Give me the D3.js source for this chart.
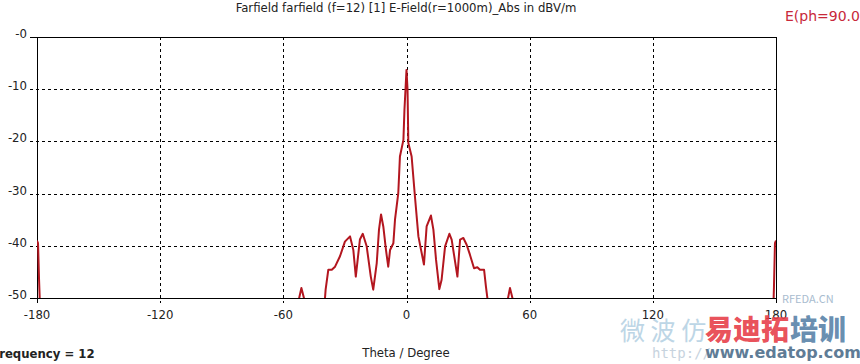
<!DOCTYPE html>
<html lang="en">
<head>
    <meta charset="UTF-8">
    <title>Farfield</title>
    <script src="https://cdnjs.cloudflare.com/ajax/libs/d3/7.8.5/d3.min.js"></script>
</head>

<style>
body { margin: 0; background: #fff; }
svg { display: block; font-family: "DejaVu Sans Condensed", "DejaVu Sans", sans-serif; }
.grid { stroke: #000; stroke-width: 1; stroke-dasharray: 3,3; shape-rendering: crispEdges; }
.frame { fill: none; stroke: #000; stroke-width: 1.2; shape-rendering: crispEdges; }
.line { fill: none; stroke: #b3161f; stroke-width: 2px; stroke-linejoin: round; }
</style>

<body>
<div id="output"></div>
<script>

    // theta in degrees, E-field in dBV/m (values below -50 are outside the view)
    var theta = [-180, -179.5, -179, -178.5, -177, -160, -140, -120, -100, -80, -65, -56,
        -54, -51.2, -48, -45, -42, -39.7, -39.4, -38.1, -36.4, -34.8, -32.4, -30, -27.5,
        -25.9, -24.7, -22.7, -21.3, -19.4, -17.4, -16.2, -14.5, -13.4, -12.4, -11.3, -10,
        -8.9, -8, -6.4, -5.6, -4, -3.2, -1.5, -1, 0, 0.5, 0.9, 2.5, 4.1, 5.8, 7.1, 8.5,
        9.8, 11.9, 13.1, 14.4, 16, 17.1, 18.8, 20.9, 22, 24.8, 26.1, 27.7, 29.3, 30.9,
        32.9, 34.5, 35.8, 37.8, 38.7, 39.4, 40, 45, 48, 50.4, 53.5, 56, 70, 90, 110, 130,
        150, 170, 178, 178.7, 179, 179.5, 180];
    var eField = [-39, -39.5, -46.5, -52, -60, -64, -60, -63, -62, -66, -58, -56,
        -53, -48.1, -53, -57, -55, -50, -48.4, -44.6, -44.6, -44, -42, -39.2, -38.2,
        -40.8, -45.9, -38.8, -37.7, -40.1, -45.9, -48.4, -43.3, -36.9, -34, -36.3, -40.8,
        -44, -40.8, -39.5, -35, -29.9, -22.9, -19.7, -14, -6.3, -10, -20.3, -22.9, -30.5, -38.2, -40.8, -43.6,
        -36.3, -34.2, -36.9, -42.7, -48.3, -46.5, -40.1, -37.7, -38.8, -45.9, -38.8, -38.5, -39.8, -41.7,
        -44.3, -44.1, -44.6, -44.6, -47.8, -50, -53, -56, -53, -48.1, -53, -57, -62, -66, -61, -64,
        -60, -63, -58, -52, -48, -39.5, -39];

    var xTicks = [-180, -120, -60, 0, 60, 120, 180];
    var yTicks = [0, -10, -20, -30, -40, -50];
    var yTickLabels = ["-0", "-10", "-20", "-30", "-40", "-50"];

    var width = 860, height = 364;
    var plot = {left: 37, right: 776, top: 37, bottom: 298};

    var x = d3.scaleLinear().domain([-180, 180]).range([plot.left, plot.right]);
    var y = d3.scaleLinear().domain([-50, 0]).range([plot.bottom, plot.top]);

    var svg = d3.select("#output").append("svg")
        .attr("width", width)
        .attr("height", height);

    svg.append("defs").append("clipPath")
        .attr("id", "plotclip")
        .append("rect")
        .attr("x", plot.left)
        .attr("y", plot.top)
        .attr("width", plot.right - plot.left)
        .attr("height", plot.bottom - plot.top);

    // dashed grid, with the little tick stubs outside the frame
    svg.selectAll(".hgrid")
        .data(yTicks.slice(1, -1))
        .enter().append("line")
        .attr("class", "grid")
        .attr("x1", plot.left - 7)
        .attr("x2", plot.right)
        .attr("y1", function(d) { return Math.round(y(d)) + 0.5; })
        .attr("y2", function(d) { return Math.round(y(d)) + 0.5; });

    svg.selectAll(".vgrid")
        .data(xTicks.slice(1, -1))
        .enter().append("line")
        .attr("class", "grid")
        .attr("x1", function(d) { return Math.round(x(d)) + 0.5; })
        .attr("x2", function(d) { return Math.round(x(d)) + 0.5; })
        .attr("y1", plot.top)
        .attr("y2", plot.bottom + 5);

    // tick stubs on the frame corners
    svg.selectAll(".ystub")
        .data([0, -50])
        .enter().append("line")
        .attr("stroke", "#000")
        .attr("x1", plot.left - 7)
        .attr("x2", plot.left)
        .attr("y1", function(d) { return Math.round(y(d)) + 0.5; })
        .attr("y2", function(d) { return Math.round(y(d)) + 0.5; });

    svg.selectAll(".xstub")
        .data([-180, 180])
        .enter().append("line")
        .attr("stroke", "#000")
        .attr("x1", function(d) { return Math.round(x(d)) + 0.5; })
        .attr("x2", function(d) { return Math.round(x(d)) + 0.5; })
        .attr("y1", plot.bottom)
        .attr("y2", plot.bottom + 5);

    svg.append("rect")
        .attr("class", "frame")
        .attr("x", plot.left + 0.5)
        .attr("y", plot.top + 0.5)
        .attr("width", plot.right - plot.left)
        .attr("height", plot.bottom - plot.top);

    // the curve
    var pts = theta.map(function(t, i) { return [t, eField[i]]; });
    var line = d3.line()
        .x(function(d) { return x(d[0]); })
        .y(function(d) { return y(d[1]); });

    svg.append("path")
        .datum(pts)
        .attr("class", "line")
        .attr("clip-path", "url(#plotclip)")
        .attr("d", line);

    // tick labels
    svg.selectAll(".ylab")
        .data(yTicks)
        .enter().append("text")
        .attr("x", 27)
        .attr("y", function(d) { return y(d) + 1; })
        .attr("text-anchor", "end")
        .style("font-size", "13px")
        .style("fill", "#222")
        .text(function(d, i) { return yTickLabels[i]; });

    svg.selectAll(".xlab")
        .data(xTicks)
        .enter().append("text")
        .attr("x", function(d) { return x(d); })
        .attr("y", 319)
        .attr("text-anchor", "middle")
        .style("font-size", "13px")
        .style("fill", "#222")
        .text(function(d) { return d; });

    svg.append("text")
        .attr("x", 406)
        .attr("y", 12)
        .attr("text-anchor", "middle")
        .style("font-size", "13px")
        .style("fill", "#222")
        .text("Farfield farfield (f=12) [1] E-Field(r=1000m)_Abs in dBV/m");

    svg.append("text")
        .attr("x", 785)
        .attr("y", 21)
        .style("font-size", "14px")
        .style("font-family", "'DejaVu Sans', sans-serif")
        .style("fill", "#c8283a")
        .text("E(ph=90.0)");

    svg.append("text")
        .attr("x", 406)
        .attr("y", 357)
        .attr("text-anchor", "middle")
        .style("font-size", "13px")
        .style("fill", "#222")
        .text("Theta / Degree");

    svg.append("text")
        .attr("x", -8)
        .attr("y", 358)
        .style("font-size", "13px")
        .style("font-weight", "bold")
        .style("fill", "#222")
        .text("Frequency = 12");

    // watermark
    var wm = svg.append("g").style("font-family", "'Noto Sans CJK SC', sans-serif");
    wm.append("text").attr("x", 620).attr("y", 340).style("font-size", "25px")
        .style("fill", "#bdd6e6").text("微 波 仿");
    wm.append("text").attr("x", 782).attr("y", 303).style("font-size", "11px")
        .style("fill", "#a8bccf").text("RFEDA.CN");
    wm.append("text").attr("x", 705).attr("y", 340).style("font-size", "28px")
        .style("font-weight", "900").style("fill", "#e63b45").style("fill-opacity", 0.9).text("易迪拓");
    wm.append("text").attr("x", 790).attr("y", 340).style("font-size", "28px")
        .style("font-weight", "900").style("fill", "#4f7ba3").style("fill-opacity", 0.85).text("培训");
    wm.append("text").attr("x", 652).attr("y", 358).style("font-size", "14px")
        .style("font-family", "'DejaVu Sans Mono', monospace")
        .style("fill", "#c7d3de").text("http://");
    wm.append("text").attr("x", 705).attr("y", 358).style("font-size", "16px")
        .style("font-weight", "bold").style("font-family", "'DejaVu Sans', sans-serif")
        .style("fill", "#5f7c96").text("www.edatop.com");

</script>
</body>
</html>
